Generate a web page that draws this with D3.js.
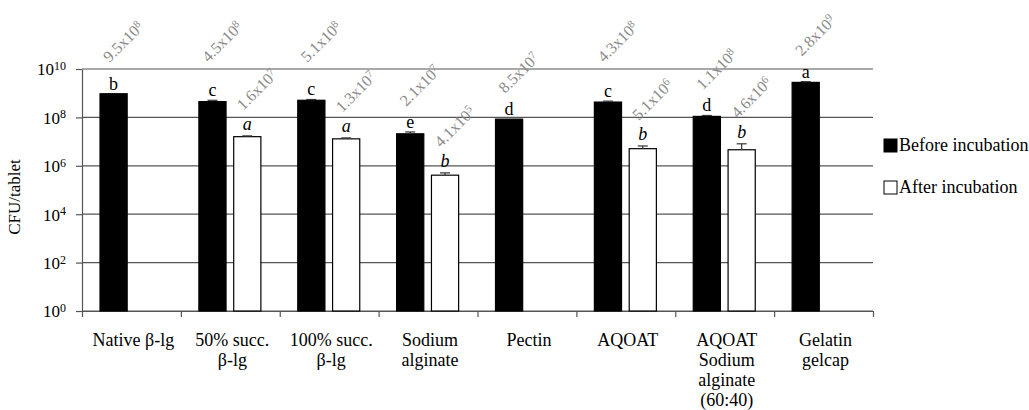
<!DOCTYPE html>
<html>
<head>
<meta charset="utf-8">
<script src="https://cdn.jsdelivr.net/npm/d3@7"></script>
<style>
  body { margin: 0; background: #fff; }
  text { font-family: "Liberation Serif", "Times New Roman", serif; }
</style>
</head>
<body>
<div id="graph"></div>
<script>
// chart data
var categories = [
  ["Native β-lg"],
  ["50% succ.", "β-lg"],
  ["100% succ.", "β-lg"],
  ["Sodium", "alginate"],
  ["Pectin"],
  ["AQOAT"],
  ["AQOAT", "Sodium", "alginate", "(60:40)"],
  ["Gelatin", "gelcap"]
];
var series = ["Before incubation", "After incubation"];
var beforeValues = [9.5e8, 4.5e8, 5.1e8, 2.1e7, 8.5e7, 4.3e8, 1.1e8, 2.8e9];
var afterValues = [null, 1.6e7, 1.3e7, 4.1e5, null, 5.1e6, 4.6e6, null];
var beforeErrors = [0, 6e7, 4e7, 4e6, 0, 4e7, 1e7, 2e8];
var afterErrors = [null, 1.2e6, 1.2e6, 1e5, null, 1.5e6, 3.5e6, null];
var beforeLetters = ["b", "c", "c", "e", "d", "c", "d", "a"];
var afterLetters = [null, "a", "a", "b", null, "b", "b", null];
var yTickExponents = [0, 2, 4, 6, 8, 10];

// set the dimensions and margins of the graph
var margin = {top: 69, right: 156, bottom: 99, left: 82},
    width = 1029 - margin.left - margin.right,
    height = 410 - margin.top - margin.bottom;

var svg = d3.select("#graph").append("svg")
    .attr("width", width + margin.left + margin.right)
    .attr("height", height + margin.top + margin.bottom)
  .append("g")
    .attr("transform", "translate(" + margin.left + "," + margin.top + ")");

// scales
var x = d3.scaleBand().domain(d3.range(categories.length)).range([0, width]);
var xEdges = d3.scaleLinear().domain([0, categories.length]).range([0, width]);
var x1 = d3.scaleBand().domain(series).range([18, 80]).paddingInner(0.22);
var y = d3.scaleLog().domain([1, 1e10]).range([height, 0]);

// build bar records
var bars = [];
categories.forEach(function(c, i) {
  if (beforeValues[i] != null) bars.push({i: i, s: series[0], v: beforeValues[i], e: beforeErrors[i], l: beforeLetters[i]});
  if (afterValues[i] != null) bars.push({i: i, s: series[1], v: afterValues[i], e: afterErrors[i], l: afterLetters[i]});
});
bars.forEach(function(d) {
  d.cx = x(d.i) + x1(d.s) + x1.bandwidth() / 2;
  d.top = y(d.v + (d.e || 0));
});

// gridlines
svg.append("g").selectAll("line")
    .data(yTickExponents)
  .enter().append("line")
    .attr("x1", 0).attr("x2", width)
    .attr("y1", function(d) { return y(Math.pow(10, d)); })
    .attr("y2", function(d) { return y(Math.pow(10, d)); })
    .style("stroke", "#555")
    .style("stroke-width", 1.2);

// y axis
var yAxis = svg.append("g")
    .call(d3.axisLeft(y)
      .tickValues(yTickExponents.map(function(e) { return Math.pow(10, e); }))
      .tickSize(6).tickSizeOuter(0).tickPadding(10)
      .tickFormat(""));
yAxis.select(".domain").style("stroke", "#555").style("stroke-width", 1.2);
yAxis.selectAll(".tick line").style("stroke", "#555").style("stroke-width", 1.2);
yAxis.selectAll(".tick text")
    .data(yTickExponents)
    .style("font-size", "17px")
    .style("fill", "#000")
    .attr("dy", "0.35em")
    .each(function(e) {
      var t = d3.select(this);
      t.append("tspan").text("10");
      t.append("tspan").attr("dy", "-0.45em").style("font-size", "12px").text(e);
    });

// x axis with ticks at category edges
var xAxis = svg.append("g")
    .attr("transform", "translate(0," + height + ")")
    .call(d3.axisBottom(xEdges).ticks(categories.length).tickSize(6).tickSizeOuter(0).tickFormat(""));
xAxis.select(".domain").style("stroke", "#555").style("stroke-width", 1.2);
xAxis.selectAll(".tick line").style("stroke", "#555").style("stroke-width", 1.2);

// category labels
svg.append("g").selectAll("text")
    .data(categories)
  .enter().append("text")
    .attr("x", function(d, i) { return x(i) + x.bandwidth() / 2 + 2; })
    .attr("y", height + 35)
    .attr("text-anchor", "middle")
    .style("font-size", "18px")
    .style("fill", "#000")
    .each(function(lines) {
      var t = d3.select(this), cx = t.attr("x");
      lines.forEach(function(l, k) {
        t.append("tspan").attr("x", cx).attr("dy", k ? 20 : 0).text(l);
      });
    });

// bars
svg.append("g").selectAll("rect")
    .data(bars)
  .enter().append("rect")
    .attr("x", function(d) { return x(d.i) + x1(d.s); })
    .attr("width", x1.bandwidth())
    .attr("y", function(d) { return y(d.v); })
    .attr("height", function(d) { return height - y(d.v); })
    .style("fill", function(d) { return d.s === series[0] ? "#000" : "#fff"; })
    .style("stroke", "#000")
    .style("stroke-width", 1.2);

// error bars
var err = svg.append("g").selectAll("g")
    .data(bars.filter(function(d) { return d.e; }))
  .enter().append("g");
err.append("line")
    .attr("x1", function(d) { return d.cx; }).attr("x2", function(d) { return d.cx; })
    .attr("y1", function(d) { return y(d.v); }).attr("y2", function(d) { return d.top; })
    .style("stroke", "#333").style("stroke-width", 1.2);
err.append("line")
    .attr("x1", function(d) { return d.cx - 5; }).attr("x2", function(d) { return d.cx + 5; })
    .attr("y1", function(d) { return d.top; }).attr("y2", function(d) { return d.top; })
    .style("stroke", "#333").style("stroke-width", 1.2);

// significance letters
svg.append("g").selectAll("text")
    .data(bars)
  .enter().append("text")
    .attr("x", function(d) { return d.cx; })
    .attr("y", function(d) { return d.top - (d.s === series[0] ? 4 : 6); })
    .attr("text-anchor", "middle")
    .style("font-size", "18px")
    .style("font-style", function(d) { return d.s === series[0] ? "normal" : "italic"; })
    .style("fill", "#000")
    .text(function(d) { return d.l; });

// rotated value labels; those that would cross the top gridline sit above it
svg.append("g").selectAll("text")
    .data(bars)
  .enter().append("text")
    .attr("transform", function(d) {
      var ly = d.top - 25;
      if (ly > -10 && ly < 12) ly = -6;
      return "translate(" + (d.cx - 4) + "," + ly + ") rotate(-45)";
    })
    .style("font-size", "16px")
    .style("fill", "#8a8a8a")
    .each(function(d) {
      var ex = Math.floor(Math.log10(d.v) + 1e-9);
      var t = d3.select(this);
      t.append("tspan").text((d.v / Math.pow(10, ex)).toFixed(1) + "x10");
      t.append("tspan").attr("dy", "-0.45em").style("font-size", "11px").text(ex);
    });

// y axis title
svg.append("text")
    .attr("transform", "translate(" + (20 - margin.left) + "," + (197 - margin.top) + ") rotate(-90)")
    .attr("text-anchor", "middle")
    .style("font-size", "17px")
    .style("fill", "#000")
    .text("CFU/tablet");

// legend
var legend = svg.append("g").selectAll("g")
    .data(series)
  .enter().append("g")
    .attr("transform", function(d, i) { return "translate(" + (884 - margin.left) + "," + (139 + i * 42 - margin.top) + ")"; });
legend.append("rect")
    .attr("width", 13).attr("height", 13)
    .style("fill", function(d, i) { return i ? "#fff" : "#000"; })
    .style("stroke", "#000")
    .style("stroke-width", 1);
legend.append("text")
    .attr("x", 15).attr("y", 12)
    .style("font-size", "18px")
    .style("fill", "#000")
    .text(function(d) { return d; });
</script>
</body>
</html>
